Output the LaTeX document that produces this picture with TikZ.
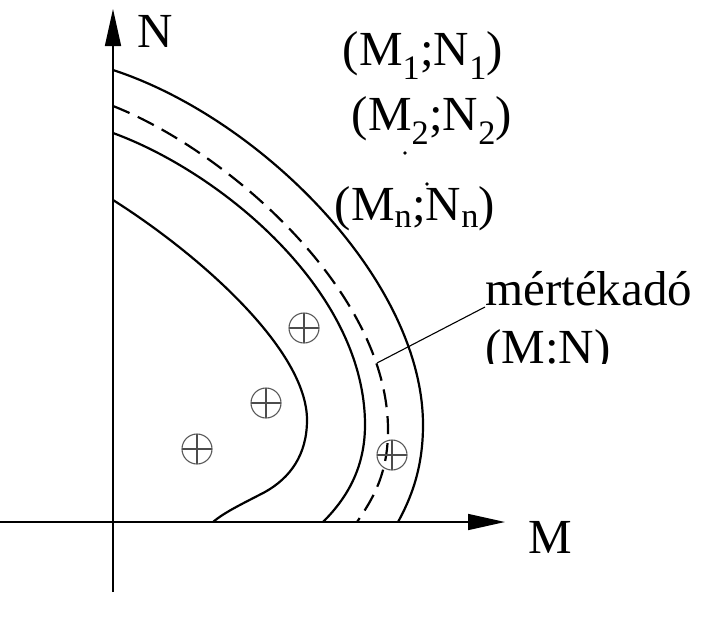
\documentclass[tikz,border=0pt]{standalone}
\usepackage{fontspec}
\setmainfont{Liberation Serif}
\usetikzlibrary{arrows.meta}
\begin{document}
\begin{tikzpicture}[x=1pt,y=-1pt,
  axis/.style={line width=1.6pt,-{Triangle[length=37pt,width=16pt]}},
  curve/.style={line width=2.2pt},
  dcurve/.style={line width=2.2pt,dash pattern=on 18pt off 9pt},
  lbl/.style={inner sep=0pt,anchor=base,font=\fontsize{49}{55}\selectfont},
  oplus/.style={circle,draw=black!65,line width=1.1pt,minimum size=30pt,inner sep=0pt,
    path picture={\draw[black!70,line width=1.1pt]
      (path picture bounding box.west) -- (path picture bounding box.east)
      (path picture bounding box.north) -- (path picture bounding box.south);}},
  leader/.style={line width=1.1pt}]
\useasboundingbox (0,0) rectangle (712,616);
% axes
\coordinate (ox) at (0,522);
\coordinate (mx) at (505,522);
\coordinate (oy) at (113,592);
\coordinate (ny) at (113,9);
\draw[axis] (ox) -- (mx);
\draw[axis] (oy) -- (ny);
\node[lbl] (N) at (155,47) {N};
\node[lbl] (M) at (550,553) {M};
% curves
\draw[curve] (113,70) .. controls (260,118) and (423,280) .. (423,425)
  .. controls (423,470) and (410,500) .. (398,522);
\draw[dcurve] (113,106) .. controls (225,150) and (388,290) .. (388,430)
  .. controls (388,475) and (372,500) .. (357,522);
\draw[curve] (113,133) .. controls (220,172) and (365,290) .. (365,425)
  .. controls (365,470) and (345,500) .. (323,522);
\draw[curve] (113,200) .. controls (200,255) and (307,350) .. (307,420)
  .. controls (307,455) and (290,478) .. (265,492)
  .. controls (240,505) and (225,512) .. (213,522);
% points
\node[oplus] (p1) at (304,328) {};
\node[oplus] (p2) at (266,403) {};
\node[oplus] (p3) at (197,449) {};
\node[oplus] (p4) at (392,455) {};
% labels
\node[lbl] (l1) at (423,65) {(M\textsubscript{1};N\textsubscript{1})};
\node[lbl] (l2) at (432,130) {(M\textsubscript{2};N\textsubscript{2})};
\node[lbl] (ln) at (415,220) {(M\textsubscript{n};N\textsubscript{n})};
\fill (405,153) circle (1.8pt);
\fill (427,184) circle (1.8pt);
\node[lbl,anchor=base west] (mk) at (485,305) {mértékadó};
\begin{scope}
\clip (470,312) rectangle (712,363);
\node[lbl,anchor=base west] (mn) at (485,363) {(M:N)};
\end{scope}
\coordinate (lead) at (377,363);
\draw[leader] (lead) -- (mk.west |- 0,307) ;
\end{tikzpicture}
\end{document}
